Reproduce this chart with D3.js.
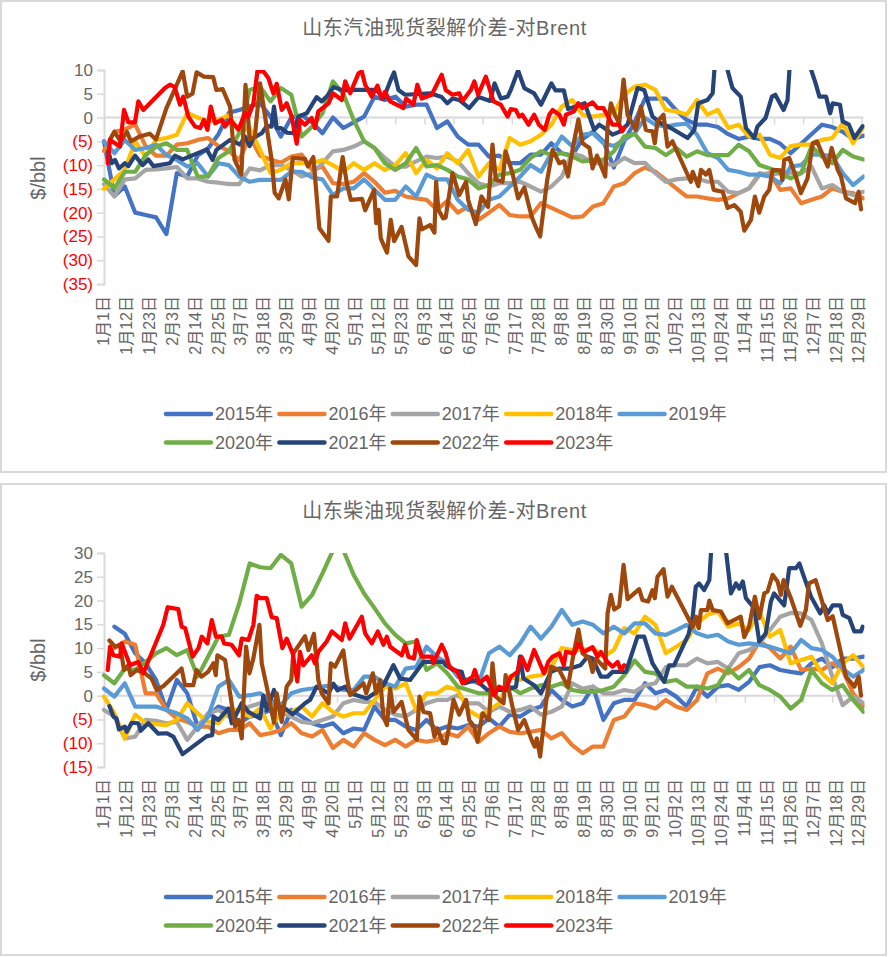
<!DOCTYPE html>
<html lang="zh">
<head>
<meta charset="utf-8">
<title>山东裂解价差</title>
<script src="https://cdn.jsdelivr.net/npm/d3@7/dist/d3.min.js"></script>
<style>
  html, body { margin: 0; padding: 0; background: #fff; }
  svg { display: block; }
  text { font-family: "Liberation Sans", "Noto Sans CJK SC", sans-serif; fill: #666; }
</style>
</head>
<body>
<svg id="chart" width="888" height="957"></svg>
<script>
// Years shown in both panels, oldest first, so the newest line is painted last.
const years = ["2015年","2016年","2017年","2018年","2019年","2020年","2021年","2022年","2023年"];
const colors = ["#4472c4","#ed7d31","#a5a5a5","#ffc000","#5b9bd5","#70ad47","#264478","#9e480e","#ff0000"];

// Category labels on the date axis, one every eleven days of a leap year.
const dateLabels = ["1月1日","1月12日","1月23日","2月3日","2月14日","2月25日","3月7日","3月18日","3月29日","4月9日","4月20日","5月1日","5月12日","5月23日","6月3日","6月14日","6月25日","7月6日","7月17日","7月28日","8月8日","8月19日","8月30日","9月10日","9月21日","10月2日","10月13日","10月24日","11月4日","11月15日","11月26日","12月7日","12月18日","12月29日"];
const labelEvery = 11;
const tickEvery = 14;
const lastDay = 365;
const sampleEvery = 5;   // the plain arrays hold one value per five days

// Shandong gasoline crack spread, $/bbl. 2021-2023 are [dayOfYear, value] pairs.
const gas2015 = [-5,-16.5,-14.5,-20,-20.5,-21,-24.5,-11.7,-12.4,-8,-6.5,-3.5,1,1.6,2.3,3,0.2,-4,0,0.5,-1,-3.3,0,-2.2,-1,0.2,4.4,3.7,4.4,2.3,2.7,2.7,-2.2,-0.8,-4,-5.7,-5.7,-8.2,-8,-9.6,-9.6,-7.8,-7.8,-5.4,-7.5,-8,-4.5,-3,-5,-10.5,-5,-1,4,4,4,1.5,-0.5,-1.5,-1.5,-2,-3.5,-4.5,-4,-4.5,-4.5,-5.5,-7.5,-5.5,-3.5,-1.5,-2,-3,-4.5,-3.8];
const gas2016 = [-7,-3,-2.5,-1.5,-6,-8,-8,-5.7,-5.4,-4.7,-4.3,-6,-7,-9,-4,-8,-8.8,-9.5,-8.2,-7.8,-11,-10.3,-13.8,-14,-13.5,-11.7,-13.5,-15.8,-15.4,-16.6,-17,-17.3,-19.4,-17.5,-20,-18.7,-21.5,-20,-18.4,-20.5,-20.8,-20.8,-18,-19,-20,-21,-20.8,-18.7,-18,-14.5,-13.8,-11.7,-10.5,-11.4,-13.1,-14.9,-16.6,-16.6,-17,-17.3,-17,-15.9,-14.9,-12,-11.7,-15.2,-14.9,-18,-17.3,-16.6,-14.9,-15.6,-15.9,-17];
const gas2017 = [-14,-16.6,-13,-12.8,-11,-10.9,-10.7,-10.4,-12.8,-12.8,-13.5,-13.7,-14,-14,-10.7,-11.1,-10,-10,-11,-12.4,-11.7,-9.6,-7.1,-6.8,-6.1,-5,-6.4,-8.5,-10.3,-10.3,-9.2,-8.2,-8.5,-8.2,-9.2,-11.7,-13.8,-14.5,-13.8,-13.8,-13.5,-14.5,-15.6,-14.5,-12.4,-7.5,-8.2,-9.6,-9.6,-10,-8.5,-9.6,-9.5,-11.7,-13.5,-13,-12.8,-12.8,-13.5,-13.5,-15.6,-15.9,-14.9,-11.7,-12,-11.7,-11.7,-11.7,-10.3,-14.9,-14.2,-15.6,-16.3,-15.6];
const gas2018 = [-15,-13,-11,-5,-8.2,-4.7,-4.3,-3.6,1,0,-0.8,-0.5,0.5,-3,-2.2,-6.8,-11.7,-11,-9.6,-9.6,-9.6,-8.9,-10,-11.4,-9.6,-11,-9.6,-11,-10,-7.5,-11.7,-8.9,-10.7,-7.5,-9.6,-6.8,-12.4,-9.6,-11,-4.3,-5.7,-5,-3.6,-1.5,2.3,3.7,0.6,0.2,0.6,0.9,4.8,6.5,6.9,5.8,1.6,1.3,0.6,3.7,0.6,1.6,-2.2,-1.5,-4,-3.6,-7.8,-8.5,-6,-5.7,-5.7,-4.7,-4.3,-1.2,-5.4,-2];
const gas2019 = [-5,-7.5,-4.7,-6.8,-6.4,-5.7,-7.9,-8.9,-10.3,-9.6,-12.4,-9.6,-10,-12.4,-13.5,-13.1,-13.1,-13.1,-11.4,-11.4,-12.6,-13,-16.3,-14.9,-14.9,-13,-15.2,-17.3,-17.3,-14.5,-16.6,-12,-13,-13,-17.3,-19.4,-20,-17.3,-16.6,-14.5,-12.4,-10,-11.4,-7.5,-4,-6,-3.6,-3.3,-5.4,-6,-4.7,-3.3,-0.1,-1.5,-1.9,-1.5,-1.3,-3.6,-7.5,-8.5,-11,-11.4,-12,-12,-12.4,-13.8,-10.3,-10,-7.8,-7.8,-8.2,-11.7,-14.2,-12.4];
const gas2020 = [-13,-14.9,-11.4,-11.4,-7.9,-6.1,-5.4,-6.8,-6.8,-12.4,-12.4,-8.5,-7.1,-3.3,5.8,6.5,3.4,6.2,4.8,-4,-1.9,0.9,7.6,5,-0.5,-5,-6.4,-9.6,-11,-9.6,-6.4,-10.3,-10,-11,-12.4,-13,-14.9,-14.2,-12,-11.7,-11,-8.5,-7.1,-7.9,-7.5,-8.2,-9.2,-8.9,-8.9,-7.1,-4,-3.4,-6.1,-6.4,-7.9,-6.4,-8.2,-7.1,-7.9,-7.9,-7.9,-5.7,-7.1,-10,-10.7,-11.7,-12.8,-11.7,-6.1,-8.2,-9.6,-6.8,-8.2,-8.8];
const gas2021 = [[2,-7.1],[3.7,-9.6],[5.3,-8.9],[7.2,-10.7],[10,-9.6],[11.7,-10.2],[14.9,-8],[18.6,-10],[21.3,-8.8],[23.7,-10.2],[31.7,-9.6],[34.1,-8],[37.8,-8.8],[49.4,-6.7],[52.2,-8.9],[54,-6.8],[60.6,-4.7],[65.4,-5.7],[67.8,-4],[70,-6],[71.8,-4.3],[75.8,-3.3],[78.2,-1.8],[80.5,-1.9],[81.7,2.3],[83,-2.2],[85,-2.2],[88,-3.2],[91,-3.3],[93.4,0.2],[97.4,0.9],[102.2,4.3],[104.6,3.4],[107,4.4],[110.3,6.4],[115,5.7],[119.9,5.8],[131,5.8],[134.3,4],[137.5,7.6],[139.4,9.5],[141.5,5.8],[144.7,4.8],[156.7,5.1],[162.3,4.3],[165,3],[167.5,4],[170.7,3.7],[175.5,2],[180,4.3],[185.6,3.5],[187.7,7.2],[190.7,4],[194,4.4],[195.5,5.8],[199,9.9],[202,6.2],[206.7,5.1],[210,2.7],[215,7.2],[217,5.7],[221,5.7],[223,1.8],[226.7,2.3],[231,3],[235.6,-2.6],[238,-1.5],[240.5,-2.2],[244.4,-3.6],[247.6,-3],[251.6,-1.5],[256.4,6.2],[259.6,5.8],[263.6,0.2],[267.6,-1.2],[272.4,-2.2],[280.5,-4.3],[283.7,-2.6],[285.6,3],[290,3.7],[292.5,5.1],[293.6,11.4],[298.8,11.4],[302,6.2],[306,4.4],[308.5,-2.2],[312.5,-4.3],[314,-1.9],[317.9,-0.1],[321,4.4],[322.6,4.8],[326.6,1.6],[328.5,3.7],[329.6,11.4],[338.8,11.4],[342,7.2],[343.8,4.4],[347,4.4],[349,0.9],[350.2,3],[353.7,2.7],[355,-0.8],[358,-1.5],[360.6,-4.3],[364.6,-1.8]];
const gas2022 = [[3,-4.5],[5,-3],[8,-5],[11,-3],[13,-5],[17,-4],[22,-3.4],[25,-4.6],[30,2],[37.8,9.7],[40,4.4],[42.5,5],[44.5,9.5],[48,8.6],[52.5,8.5],[54,5.8],[57,6],[60.6,2.3],[62.7,-8.8],[66,-12],[68,6.9],[70,-4.6],[72.5,-4],[75,7.2],[80.6,-9],[82,-15.8],[84,-17],[87.2,-13],[88.8,-17.2],[90.7,-8.5],[96.6,-8.7],[98,-10.3],[100.6,-8.3],[103.5,-23.3],[107.9,-25.9],[109,-16.6],[112,-16.6],[114.7,-8.3],[116.7,-13.8],[118.6,-17.3],[124,-17.1],[125.5,-19.5],[129.8,-15.2],[130.8,-22.2],[132,-19.4],[133,-25.4],[136,-28.4],[137.8,-21.5],[139.4,-26],[143,-23],[146.3,-29.2],[150,-31],[151.6,-21.2],[152.7,-23.5],[156.7,-22.6],[158.8,-24.2],[159.6,-13.5],[160.7,-19.4],[163,-21.2],[164.2,-21],[167.5,-11.7],[170.7,-16.3],[174,-13.5],[175,-17.3],[178.7,-22.4],[181.4,-16.6],[184.6,-18.8],[186.7,-5.7],[188.3,-13.1],[191.5,-13.5],[193,-7.1],[196.3,-11.7],[199,-17],[202,-14.7],[205.5,-20.8],[207.5,-23],[209.6,-25],[213,-13.1],[215.6,-6.8],[218.8,-9.6],[221,-9.2],[223,-12.4],[225.4,-6.1],[228,-0.4],[230,-5.4],[233.3,-6.4],[234.8,-10.7],[236.9,-8],[240.9,-12.4],[242,-1.9],[243.6,3],[245.5,0.6],[247.6,-1.2],[249.7,8],[251.6,0.6],[255.6,-2.6],[258,2.3],[260.4,-2.6],[263.6,-2.9],[264.7,-5.4],[266,-0.8],[268.9,0.6],[270.8,-6.1],[273.2,-5],[282,-13.5],[282.9,-11.4],[285.6,-14.4],[286.9,-11],[289.3,-12],[290.9,-11],[293,-15.2],[297.3,-15.6],[299.7,-19],[302.9,-18.4],[306,-19.8],[307.7,-23.8],[310.9,-21.5],[312.8,-16.6],[314.9,-20],[317.3,-16.6],[319.7,-15.2],[321.3,-11],[325.3,-11.1],[326,-13.1],[326.9,-8.9],[329.3,-8.5],[332.5,-12.4],[334.9,-15.9],[338.1,-12.8],[340.6,-5.4],[342.6,-5],[347.8,-10.3],[349.7,-6.4],[352.6,-11],[354.2,-12.4],[356.6,-17],[360.9,-18],[362.7,-15.6],[363.8,-19.3]];
const gas2023 = [[1.8,-9.6],[2.9,-4.7],[5.3,-5.4],[7.7,-6.1],[9.6,1.6],[11.7,-1],[14.9,-1],[16.5,3.4],[18.9,1.6],[29.3,6.2],[31.7,6.9],[34,6.4],[36.5,2.7],[38.1,4.4],[40.5,0.2],[43.8,-1.9],[46.2,-2.2],[48,-0.5],[49.7,-2.6],[51.3,2.3],[53.4,-1.2],[56.6,-0.5],[58.2,-1.9],[60.6,-0.5],[64.6,-2.5],[67.8,0.9],[69.4,0.2],[71.8,3],[73.7,9.7],[76.6,9.7],[79,8.3],[81.4,5.1],[83,7.1],[85.4,1.6],[87.8,3],[90.2,0.2],[92.6,-5.5],[94.2,-0.5],[96.6,-1.5],[99.8,-0.1],[101.4,-2.2],[103,1.3],[107.9,3],[110,5.1],[114.3,3.7],[115.9,7.6],[118.3,5.1],[122.3,9.3],[123.9,9.7],[125.5,6.9],[128.7,4.4],[131.4,6.7],[133.5,4],[135,5.4],[137.5,3.4],[143.9,2],[145.2,4],[148.7,2.7],[150.6,6.9],[152.7,4],[157.5,4.8],[162.3,9],[164.2,5.8],[167.5,4.8],[170.7,5.1],[172.3,3.5],[176.3,5.8],[178,7.6],[179.8,4.8],[183.5,8.6],[187.2,3.4],[190.7,2.7],[194,0.2],[195.5,1.8],[197.9,1.6],[199.5,0.2],[201,0.6],[204,-1.5],[206.7,0.6],[209,-1.5],[211.8,-2.6],[214,0.6],[215.6,1.6],[218.8,0.6],[221,-1.5],[222,0.6],[225.9,1.3],[227.9,3],[230,2],[234.8,3.2],[237.2,2],[240,2],[244.4,-1.5],[247.6,-1.5],[249,-2.9],[250,-2.2]];

// Shandong diesel crack spread, $/bbl. 2021-2023 are [dayOfYear, value] pairs.
const die2015 = [null,14.5,13,8.9,6.8,3.3,-3,3.3,0.5,-6.5,-4.4,-2.3,-3,-5.8,-4.4,-4,-3,-8.3,-3,-4.4,-5.8,-6.5,-5.8,-7.9,-6.9,-7.2,-2.3,-5.1,-5.1,-6.5,-7.2,-5.1,-7.2,-6.5,-6.9,-6.2,-6.5,-4.8,-6.5,-4,-4.4,-3,-2.3,1.2,-0.9,-2.3,-1.6,1.9,-5.1,-1.6,-0.9,-0.9,2.6,0.5,1.2,-0.2,-2.3,1.9,-0.2,1.9,2.2,1.2,2.9,6,6.4,5.4,5,4.7,6.8,7.8,6,7.8,7.8,8.2];
const die2016 = [null,10,11.4,10.7,0.5,0.5,-3,-4.8,-5.5,-6.5,-6.5,-7.9,-7.2,-7.2,-5.8,-8.3,-7.9,-7.2,-5.8,-7.9,-8.6,-7.2,-11,-9.3,-10.7,-7.9,-9.3,-10.4,-9.3,-10.7,-9.3,-9.7,-9.3,-7.9,-8.6,-6.5,-9.7,-7.9,-6.5,-7.6,-7.9,-7.6,-7.2,-9,-7.9,-10.4,-12.1,-10.7,-10.7,-5.1,-4.4,-1.6,-2,-2.7,-0.9,-2.3,-3,-0.9,4.7,5.7,4.7,6,7.8,11.4,10,7.8,10.3,5.4,5.7,5.4,6.8,5.4,0.5,-2.3];
const die2017 = [-3,-4.4,-9,-8.6,-5.1,-5.3,-5.8,-5.5,-9.3,-6.5,-3.7,-3,-4.4,-3,-2.3,-1.6,-0.9,-3.4,-4.4,-5.5,-5.8,-5.1,-4.4,-1.6,-0.9,-1.3,-1.3,-3,-4,-4.4,-3,-1.6,-0.9,-0.9,0.1,-1.6,-1.6,-3.4,-2.3,-3.4,-3,-2.3,-4,-3.4,-2.3,2.6,1.5,1.9,0.5,0.5,1.2,0.8,2.2,2.6,6,6.4,6.4,7.8,6.8,7.1,5.7,8.9,9.6,11,13.8,16.6,17.4,17.3,15.9,11,4,-2,-0.2,-1.6];
const die2018 = [-0.2,-3.7,-9,-4,-5.8,-6,-6.2,-5.1,-1.6,-3.7,-5.5,-5.8,-3,-3,-4.4,-2.7,-6.9,-3.4,-3.4,-2.3,-4.4,-1.6,-3.4,-4.4,-3.7,-3.7,-0.9,1.9,1.5,2.6,-3,0.5,0.5,1.9,1.2,-3,-4.4,-3,-1.6,4,3.3,4,4.3,6,10,9.6,9.6,10,8.2,9.6,14.2,13.1,16.6,14.9,8.9,10.3,11.7,15.2,17,17.7,14.5,15.2,13.8,17.7,12.4,13.8,6.8,7.5,8.2,4.7,2.6,6.8,8.5,6];
const die2019 = [1.5,-0.2,2.6,-2.3,-2.3,-2.3,-3,-3.7,-4.8,-7.2,-4.4,1.9,3.3,-0.2,0.1,0.5,-0.9,-2,0.5,1.2,1.5,1.9,2.2,1.2,1.2,4,4,2.6,1.9,5.7,6,10.3,8.2,6.8,4,3.3,2.6,8.9,10.3,8.5,11,14.5,12,14.5,18,14.9,15.6,14.9,13.1,14.5,13.1,15.2,15.2,13.1,12.8,13.8,14.9,13.1,12.4,12.8,11.4,10.7,11,10.7,10.3,9.6,8.9,11.7,10,9.6,8.2,5.7,4,5.4];
const die2020 = [4.3,2.6,5.7,5.4,7.1,8.9,10,8.5,9.6,4,8.2,12.4,12.8,19.4,27.8,27,26.8,29.6,27.8,18.7,21.2,25.7,30.5,30.6,25.4,21.5,18.4,15.2,12.8,11,11.4,5.4,6.8,4.7,1.9,1.2,0.5,0.5,1.5,1.9,0.5,1.5,2.2,1.9,2.6,1.2,0.8,0.8,1.2,1.9,4.3,7.4,5,4.7,2.9,3.3,1.9,1.9,1.5,2.2,5.7,3.6,5.4,2.2,1.2,-0.2,-2.7,-0.9,5.4,2.6,1.2,2.2,-0.9,-3.4];
const die2021 = [[2.6,-2.2],[4.5,-4.4],[6,-4.8],[7.2,-7.1],[10,-6.5],[10.9,-7.6],[13.3,-5.7],[16.5,-5.8],[17.6,-7.4],[21.3,-5.8],[26.1,-8],[30.1,-7.9],[33.3,-8.6],[37.8,-12.3],[49.4,-8.5],[52,-8.3],[52.6,-4.4],[55,-5.1],[59.8,-2.7],[61.4,-5.8],[66.2,-1.6],[69.4,-3.4],[75,-4.8],[76.6,0],[78.2,-3],[81.7,1.2],[83.9,-2.3],[87,-2.7],[90.7,-3.9],[96.6,-1.6],[99,-0.9],[102.2,1.9],[107.9,0.5],[110.3,2.5],[112.2,1.1],[115.9,1.9],[118.3,0.5],[126.3,-0.6],[130,0.5],[134.3,2.2],[139.1,6.4],[142.3,3.6],[147.1,3.3],[153.5,7.1],[163,7.1],[164.2,6.4],[167.9,5.4],[171.9,5],[173.4,2.6],[178.7,3.3],[184.2,1.2],[193,1.2],[198,1.9],[199.9,8.2],[201.6,3.6],[206.7,2.2],[210,0.5],[214.8,5],[218.8,5.7],[224,5.7],[229,6.4],[232.4,8.2],[234.8,7.8],[238.8,4],[242,4],[244.4,5],[250.8,5],[256.4,12.4],[259.6,12.4],[263.6,6.8],[269.2,2.9],[271.6,6.4],[274,6.4],[281,13],[282.9,16.6],[284.4,22.9],[286,23.6],[288.4,22.2],[290.9,24.3],[292,32],[298.5,32],[301.3,21.5],[303.7,23.6],[305.3,22.5],[307,24],[308.5,20.5],[312.5,18.4],[314.9,11.4],[318,13.1],[320.5,19.8],[322,21.5],[326.9,19],[329.3,26.8],[332.5,26.8],[334.2,27.8],[335.8,25.7],[339.8,20.8],[344.2,17.3],[346.1,19],[347.8,17.3],[350.2,19],[353.9,19],[355,17],[358.2,16.3],[360.6,13.5],[363.8,13.5],[364.6,14.5]];
const die2022 = [[2.6,11.6],[5.3,10.3],[7.7,10.7],[9.6,5.4],[11.7,6.4],[12.8,4.3],[15.7,5.4],[19.7,4.7],[22.9,3.6],[25.3,1.2],[28.5,2],[37.3,5.7],[38.9,2.2],[42.9,2.2],[44.5,5.4],[46.9,4],[50,5],[52.6,6.8],[53.7,4.3],[54.5,8.5],[58.2,7.5],[60.6,0.5],[63,-6.5],[64.6,-5.1],[66.2,-9],[68.3,10.3],[69.9,4.7],[71.8,7.9],[74.7,14.9],[75.8,6.8],[78.2,1.9],[81.7,-5.7],[83,0.5],[85.4,-5.5],[87.8,1.9],[90,3.3],[91,8.9],[96.6,12.5],[98.2,9.6],[100.9,13],[103,3.3],[104.6,0.5],[107.9,-1.6],[109,6.8],[111,6.1],[115,9.5],[116.7,4],[118.3,0.1],[124.7,2.6],[126,0.5],[129.2,4.7],[130.8,0.5],[132.7,3.3],[134.3,-4.4],[136,-6.2],[137.5,1.5],[139.1,-3.4],[143,-1.3],[146.3,-7.2],[150.3,-9.2],[151.6,-0.2],[153.5,-3.4],[156.7,-3.7],[158.8,-8.6],[160.3,-6.9],[163,-10],[164.3,-10],[165.9,-6.5],[168,-0.9],[170.7,-4],[174,-0.9],[175.5,-5.1],[177.9,-6.5],[179.5,-9.7],[181.9,-3.7],[185,-5.1],[186.7,6.8],[188.3,-0.2],[192,-1.6],[193,4.3],[196.3,-2.3],[199,-7.2],[202,-5.1],[205.5,-9.3],[207,-10.7],[208,-9],[209.6,-12.8],[212.4,-1.6],[214.8,6.1],[218.8,5.4],[223,1.8],[225.4,8.2],[228,13.9],[230,8.9],[233.2,7.8],[234.8,5],[236.4,7.8],[240.9,5.7],[242,17.3],[243.6,21.2],[245.2,18.1],[247.6,18.8],[249.7,27.5],[251.6,20.3],[257.2,22.4],[258.8,20.1],[261.5,19.8],[263.6,22.2],[264.7,20.5],[266,25],[268.9,26.6],[270.8,20.8],[272.9,22.9],[282.9,14.5],[284.5,16.6],[285.8,14.2],[286.9,18],[290,18],[290.9,20],[292.5,18],[296.5,17.7],[299.7,15.2],[306,16.6],[307.7,12.3],[310,14.5],[312.8,20.8],[314.9,16.3],[317.3,21.5],[318.9,21.9],[321.3,25.4],[323.7,24],[325.3,21.2],[326.6,24.3],[330.1,20.5],[334.6,14.7],[337.3,18],[338.8,23.6],[342,24.3],[347.8,15.9],[350.2,16.7],[354.2,8.9],[356.6,4],[360.6,1.9],[362.7,4],[363.8,0]];
const die2023 = [[1.8,5.4],[2.9,10.3],[4.5,8.5],[7.7,8.2],[8.5,11],[12.5,6.4],[16.5,7.1],[18.9,4.7],[28.5,14.9],[30.6,18.6],[35.7,18.2],[37.3,14.5],[39,14.2],[42.6,8.2],[45.4,10],[47,12.4],[49.7,11],[51.8,15.9],[53.8,12.4],[56.6,12.4],[57.7,11],[61.3,10.7],[64.9,8.5],[66.2,12],[69.4,11.7],[71.8,14.9],[73.4,21],[75,20.5],[78.2,20.5],[80.6,16.5],[83,16.3],[85.7,10],[87.8,12],[90.7,8.9],[92.9,3],[94.2,9.2],[95.8,6.4],[99.8,8.5],[101.4,6.8],[103,9.2],[107,11.4],[109.5,13.5],[114.3,11.7],[115.9,15.2],[118,12],[123.9,16.6],[125.5,13.1],[128.7,11],[131.6,13.5],[134.3,10.7],[135.9,12.4],[137.5,10.3],[143.1,8.5],[144.7,10.7],[146.3,8.2],[149,7.8],[150.3,11.7],[152.7,8.2],[157.5,8.2],[158.3,6.9],[162.3,10.7],[164.2,8.9],[165.9,6.1],[169.9,5],[172.3,2.6],[177.2,4],[178.2,5.4],[180.3,2.6],[184,4],[187.5,0.1],[189.9,1.9],[193,1.2],[195.5,4],[198.7,5],[200.6,8.2],[203.5,5.4],[206.7,9.6],[211.5,4.7],[213.5,7.1],[215.6,8.2],[218.8,8.9],[221,6.4],[222,9.2],[226,8.9],[227.9,10.9],[230.8,9.2],[234.8,10.2],[237.2,8.2],[238.8,9.2],[241.9,7.1],[244.4,6.1],[246.8,7.1],[248.4,5.4],[250,6.4]];

const gasSeries = [gas2015,gas2016,gas2017,gas2018,gas2019,gas2020,gas2021,gas2022,gas2023];
const dieSeries = [die2015,die2016,die2017,die2018,die2019,die2020,die2021,die2022,die2023];

// Plain arrays become [day, value] pairs; dense series are already in that form.
const toPairs = s => s.map((v, i) => Array.isArray(v) ? v : (v == null ? null : [i * sampleEvery, v]));

const svg = d3.select("#chart");
const axisColor = "#d9d9d9";
const textColor = "#666";
const negColor = "#ff0000";
const fmt = v => v < 0 ? `(${-v})` : `${v}`;
const x = d3.scaleLinear().domain([0, lastDay]).range([104, 863.5]);

// One framed panel: title, value axis, date axis, lines and a two-row legend.
function panel(opts, idx) {
  const g = svg.append("g").attr("transform", `translate(0,${opts.top})`);
  g.append("rect").attr("x", 1).attr("y", 1).attr("width", 885).attr("height", 471)
    .attr("fill", "#fff").attr("stroke", axisColor).attr("stroke-width", 2);

  g.append("text").attr("x", 444.5).attr("y", 35).attr("text-anchor", "middle")
    .style("font-size", "20px").style("letter-spacing", "0.6px").text(opts.title);

  const y = d3.scaleLinear().domain(opts.domain).range([284, 70]);

  // Value axis with bracketed negatives in red.
  const yAxis = g.append("g").attr("transform", `translate(${x.range()[0]},0)`)
    .call(d3.axisLeft(y).tickValues(d3.range(opts.domain[0], opts.domain[1] + 1, 5)).tickSize(7).tickPadding(4).tickFormat(fmt));
  yAxis.select(".domain").attr("stroke", axisColor).attr("stroke-width", 2);
  yAxis.selectAll(".tick line").attr("stroke", axisColor).attr("stroke-width", 1.5);
  yAxis.selectAll(".tick text").style("font-size", "17px").style("fill", d => d < 0 ? negColor : textColor);

  g.append("text").attr("transform", `translate(45,${opts.titleY}) rotate(-90)`).attr("text-anchor", "middle")
    .style("font-size", "20px").text("$/bbl");

  // Date axis crossing at zero, with its tick marks below the line.
  const zeroAxis = g.append("g").attr("transform", `translate(0,${y(0)})`)
    .call(d3.axisBottom(x).tickValues(d3.range(0, lastDay + 1, tickEvery)).tickSize(7).tickFormat(""));
  zeroAxis.select(".domain").attr("stroke", axisColor).attr("stroke-width", 2).attr("d", `M${x.range()[0]},0H${x.range()[1]}`);
  zeroAxis.selectAll(".tick line").attr("stroke", axisColor).attr("stroke-width", 1.5);

  // Date labels sit at the foot of the plot, reading upward.
  const labelAxis = g.append("g").attr("transform", "translate(0,296)")
    .call(d3.axisBottom(x).tickValues(dateLabels.map((_, i) => i * labelEvery)).tickSize(0).tickFormat((d, i) => dateLabels[i]));
  labelAxis.select(".domain").remove();
  labelAxis.selectAll(".tick text")
    .attr("transform", "rotate(-90)")
    .attr("x", 0).attr("y", -1).attr("dy", "0.35em")
    .attr("text-anchor", "end")
    .style("font-size", "16px");

  // Lines are cut off at the plot edges.
  const clipId = `plot-${idx}`;
  g.append("clipPath").attr("id", clipId).append("rect")
    .attr("x", x.range()[0] - 3).attr("y", 70).attr("width", x.range()[1] - x.range()[0] + 4).attr("height", 230);
  const line = d3.line().defined(d => d != null)
    .x(d => x(d[0])).y(d => y(d[1]));
  g.append("g").attr("clip-path", `url(#${clipId})`).selectAll("path")
    .data(opts.series.map(toPairs)).join("path")
    .attr("d", line).attr("fill", "none")
    .attr("stroke", (_, i) => colors[i]).attr("stroke-width", 4.2)
    .attr("stroke-linejoin", "round").attr("stroke-linecap", "round");

  // Legend: five entries on the first row, four on the second.
  const leg = g.append("g").selectAll("g").data(years).join("g")
    .attr("transform", (_, i) => `translate(${166 + (i % 5) * 113.4},${414 + Math.floor(i / 5) * 28.5})`);
  leg.append("line").attr("x1", 0).attr("x2", 45).attr("stroke", (_, i) => colors[i])
    .attr("stroke-width", 4.5).attr("stroke-linecap", "round");
  leg.append("text").attr("x", 49).attr("dy", "0.36em").style("font-size", "18px").text(d => d);
}

[
  { top: 0, title: "山东汽油现货裂解价差-对Brent", domain: [-35, 10], series: gasSeries, titleY: 178 },
  { top: 483, title: "山东柴油现货裂解价差-对Brent", domain: [-15, 30], series: dieSeries, titleY: 177 }
].forEach(panel);
</script>
</body>
</html>
